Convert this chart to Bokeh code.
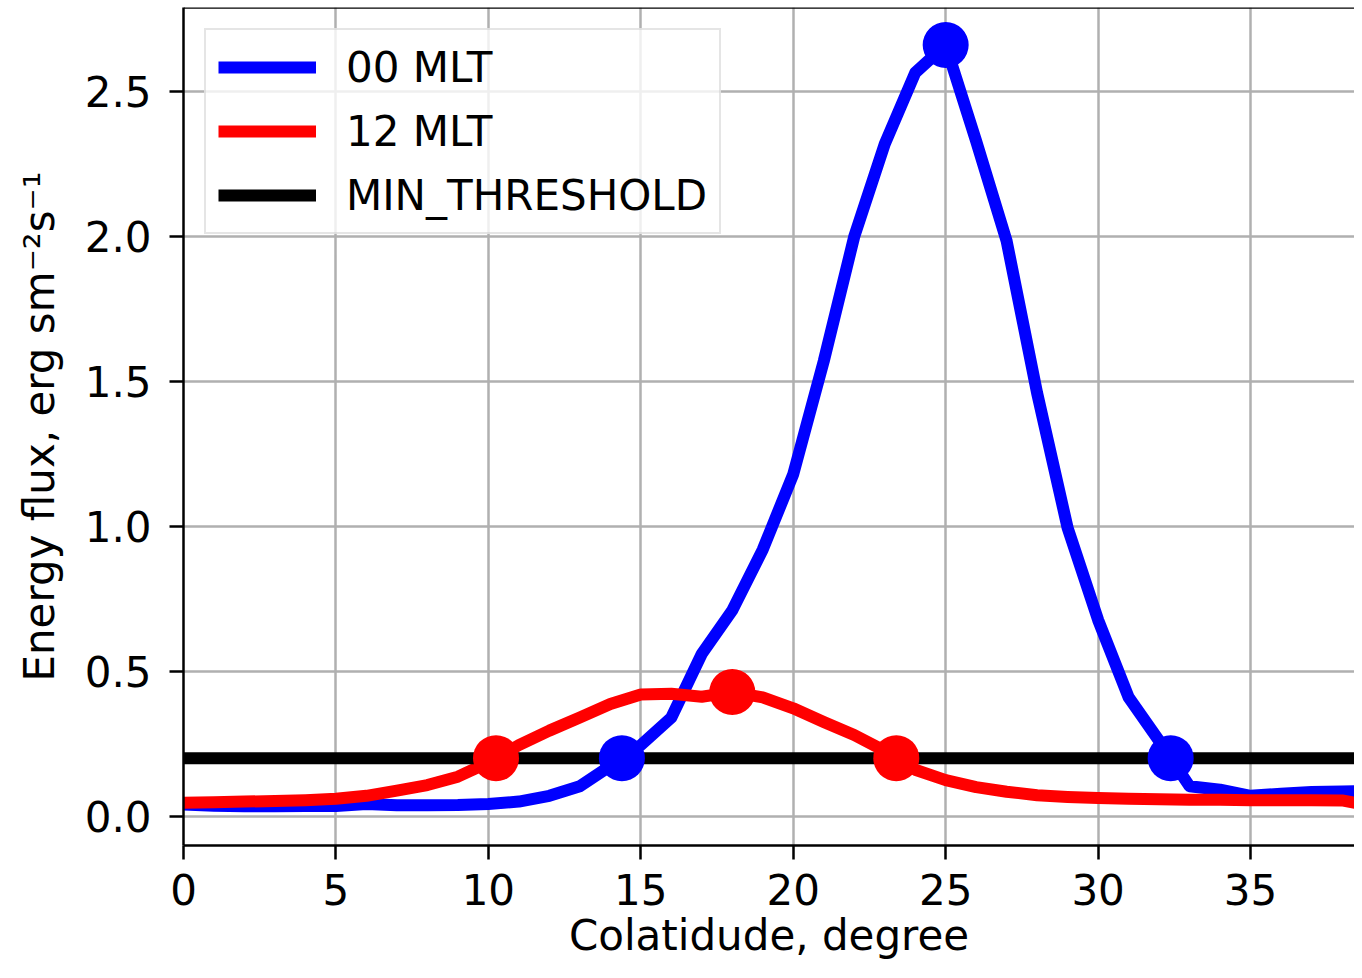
from bokeh.plotting import figure
from bokeh.models import Range1d, FixedTicker, Span, Legend, LegendItem
from bokeh.embed import file_html
from bokeh.resources import INLINE

# ---------------- data ----------------
colat = list(range(0, 40))
flux_00_mlt = [0.040, 0.036, 0.034, 0.034, 0.035, 0.035, 0.042, 0.037, 0.037, 0.038,
               0.042, 0.050, 0.070, 0.103, 0.173, 0.245, 0.340, 0.560, 0.710, 0.920,
               1.180, 1.570, 2.000, 2.320, 2.566, 2.662, 2.330, 1.985, 1.460, 0.995,
               0.677, 0.410, 0.260, 0.103, 0.091, 0.070, 0.077, 0.083, 0.085, 0.086]
flux_12_mlt = [0.046, 0.048, 0.050, 0.052, 0.055, 0.060, 0.070, 0.088, 0.107, 0.136,
               0.185, 0.245, 0.295, 0.340, 0.387, 0.420, 0.422, 0.412, 0.428, 0.410,
               0.372, 0.325, 0.280, 0.225, 0.160, 0.124, 0.100, 0.084, 0.072, 0.066,
               0.062, 0.060, 0.058, 0.056, 0.056, 0.055, 0.055, 0.055, 0.054, 0.034]
min_threshold = [0.2] * len(colat)

marks_00_x = [14.38, 25.0, 32.38]
marks_00_y = [0.2, 2.662, 0.2]
marks_12_x = [10.25, 18.0, 23.38]
marks_12_y = [0.2, 0.428, 0.2]

x_ticks = [0, 5, 10, 15, 20, 25, 30, 35, 40]
x_tick_labels = ["0", "5", "10", "15", "20", "25", "30", "35", "40"]
y_ticks = [0.0, 0.5, 1.0, 1.5, 2.0, 2.5]
y_tick_labels = ["0.0", "0.5", "1.0", "1.5", "2.0", "2.5"]

series_labels = ["00 MLT", "12 MLT", "MIN_THRESHOLD"]
x_label = "Colatidude, degree"
y_label = "Energy flux, erg sm\u207b\u00b2s\u207b\u00b9"

# ---------------- figure ----------------
FONT = "DejaVu Sans"
Y_END = 2.7914

p = figure(width=1354, height=962, output_backend="svg", toolbar_location=None,
           x_range=Range1d(0, 38.41), y_range=Range1d(-0.1016, Y_END),
           min_border_left=183, min_border_right=0, min_border_top=7,
           min_border_bottom=117)
p.outline_line_color = None
p.background_fill_color = "white"
p.border_fill_color = "white"

r00 = p.line(colat, flux_00_mlt, line_color="#0000ff", line_width=12, line_join="round")
r12 = p.line(colat, flux_12_mlt, line_color="#ff0000", line_width=12, line_join="round")
rth = p.line(colat, min_threshold, line_color="black", line_width=12)
p.scatter(marks_00_x, marks_00_y, size=46, color="#0000ff", line_width=0)
p.scatter(marks_12_x, marks_12_y, size=46, color="#ff0000", line_width=0)

# top spine
p.add_layout(Span(location=Y_END, dimension="width", line_color="black", line_width=2.5))

# axes
p.xaxis.ticker = FixedTicker(ticks=x_ticks)
p.xaxis.major_label_overrides = dict(zip(x_ticks, x_tick_labels))
p.yaxis.ticker = FixedTicker(ticks=y_ticks)
p.yaxis.major_label_overrides = dict(zip(y_ticks, y_tick_labels))
p.xaxis.axis_label = x_label
p.yaxis.axis_label = y_label
for ax in (p.xaxis[0], p.yaxis[0]):
    ax.axis_line_color = "black"
    ax.axis_line_width = 2.5
    ax.major_tick_line_color = "black"
    ax.major_tick_line_width = 2.5
    ax.major_tick_out = 14
    ax.major_tick_in = 0
    ax.minor_tick_line_color = None
    ax.major_label_text_font = FONT
    ax.major_label_text_font_size = "42px"
    ax.major_label_text_color = "black"
    ax.axis_label_text_font = FONT
    ax.axis_label_text_font_size = "42px"
    ax.axis_label_text_font_style = "normal"
    ax.axis_label_text_color = "black"
p.xaxis.major_label_standoff = 14
p.xaxis.axis_label_standoff = 3
p.yaxis.major_label_standoff = 18
p.yaxis.axis_label_standoff = 18

p.xgrid.grid_line_color = "#b0b0b0"
p.ygrid.grid_line_color = "#b0b0b0"
p.xgrid.grid_line_width = 2.5
p.ygrid.grid_line_width = 2.5

legend = Legend(items=[LegendItem(label=series_labels[0], renderers=[r00]),
                       LegendItem(label=series_labels[1], renderers=[r12]),
                       LegendItem(label=series_labels[2], renderers=[rth])],
                location="top_left", margin=21, padding=12, spacing=14,
                glyph_width=98, glyph_height=50, label_height=50, label_standoff=30,
                label_text_font=FONT, label_text_font_size="42px",
                label_text_color="black",
                border_line_color="#cccccc", border_line_width=2.5,
                background_fill_color="white", background_fill_alpha=0.8)
p.add_layout(legend)

open("out.html", "w").write(file_html(p, INLINE))
